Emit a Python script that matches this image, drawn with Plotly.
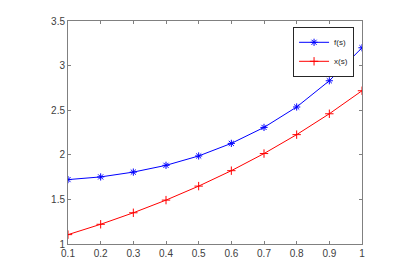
import plotly.graph_objects as go

s_vals = [0.1, 0.2, 0.3, 0.4, 0.5, 0.6, 0.7, 0.8, 0.9, 1.0]
f_vals = [1.722, 1.752, 1.806, 1.882, 1.987, 2.128, 2.307, 2.536, 2.830, 3.200]
x_vals = [1.105, 1.221, 1.350, 1.492, 1.649, 1.822, 2.014, 2.226, 2.460, 2.718]
x_ticks = [0.1, 0.2, 0.3, 0.4, 0.5, 0.6, 0.7, 0.8, 0.9, 1]
y_ticks = [1, 1.5, 2, 2.5, 3, 3.5]

fig = go.Figure()
fig.add_trace(go.Scatter(x=s_vals, y=f_vals, mode="lines+markers", name="f(s)",
                         line=dict(color="#0000ff", width=1),
                         marker=dict(symbol="asterisk-open", size=6, color="#0000ff",
                                     line=dict(color="#0000ff", width=1))))
fig.add_trace(go.Scatter(x=s_vals, y=x_vals, mode="lines+markers", name="x(s)",
                         line=dict(color="#ff0000", width=1),
                         marker=dict(symbol="cross-thin-open", size=6, color="#ff0000",
                                     line=dict(color="#ff0000", width=1))))

axis_common = dict(showline=True, linecolor="#808080", linewidth=1, mirror="ticks",
                   ticks="inside", ticklen=3, tickcolor="#808080", showgrid=False,
                   zeroline=False, tickfont=dict(family="Liberation Sans, Arial", size=10, color="#404040"))
fig.update_xaxes(range=[0.1, 1], tickvals=x_ticks, ticktext=[str(v) for v in x_ticks], **axis_common)
fig.update_yaxes(range=[1, 3.5], tickvals=y_ticks, ticktext=[str(v) for v in y_ticks], **axis_common)

fig.update_layout(width=411, height=271, margin=dict(l=60, r=57, t=7, b=35),
                  plot_bgcolor="white", paper_bgcolor="white",
                  legend=dict(x=0.973, y=0.974, xanchor="right", yanchor="top",
                              bordercolor="#262626", borderwidth=1, bgcolor="white",
                              font=dict(family="Liberation Sans, Arial", size=8, color="#262626"),
                              tracegroupgap=0, itemwidth=30))
fig.write_html("out.html")
